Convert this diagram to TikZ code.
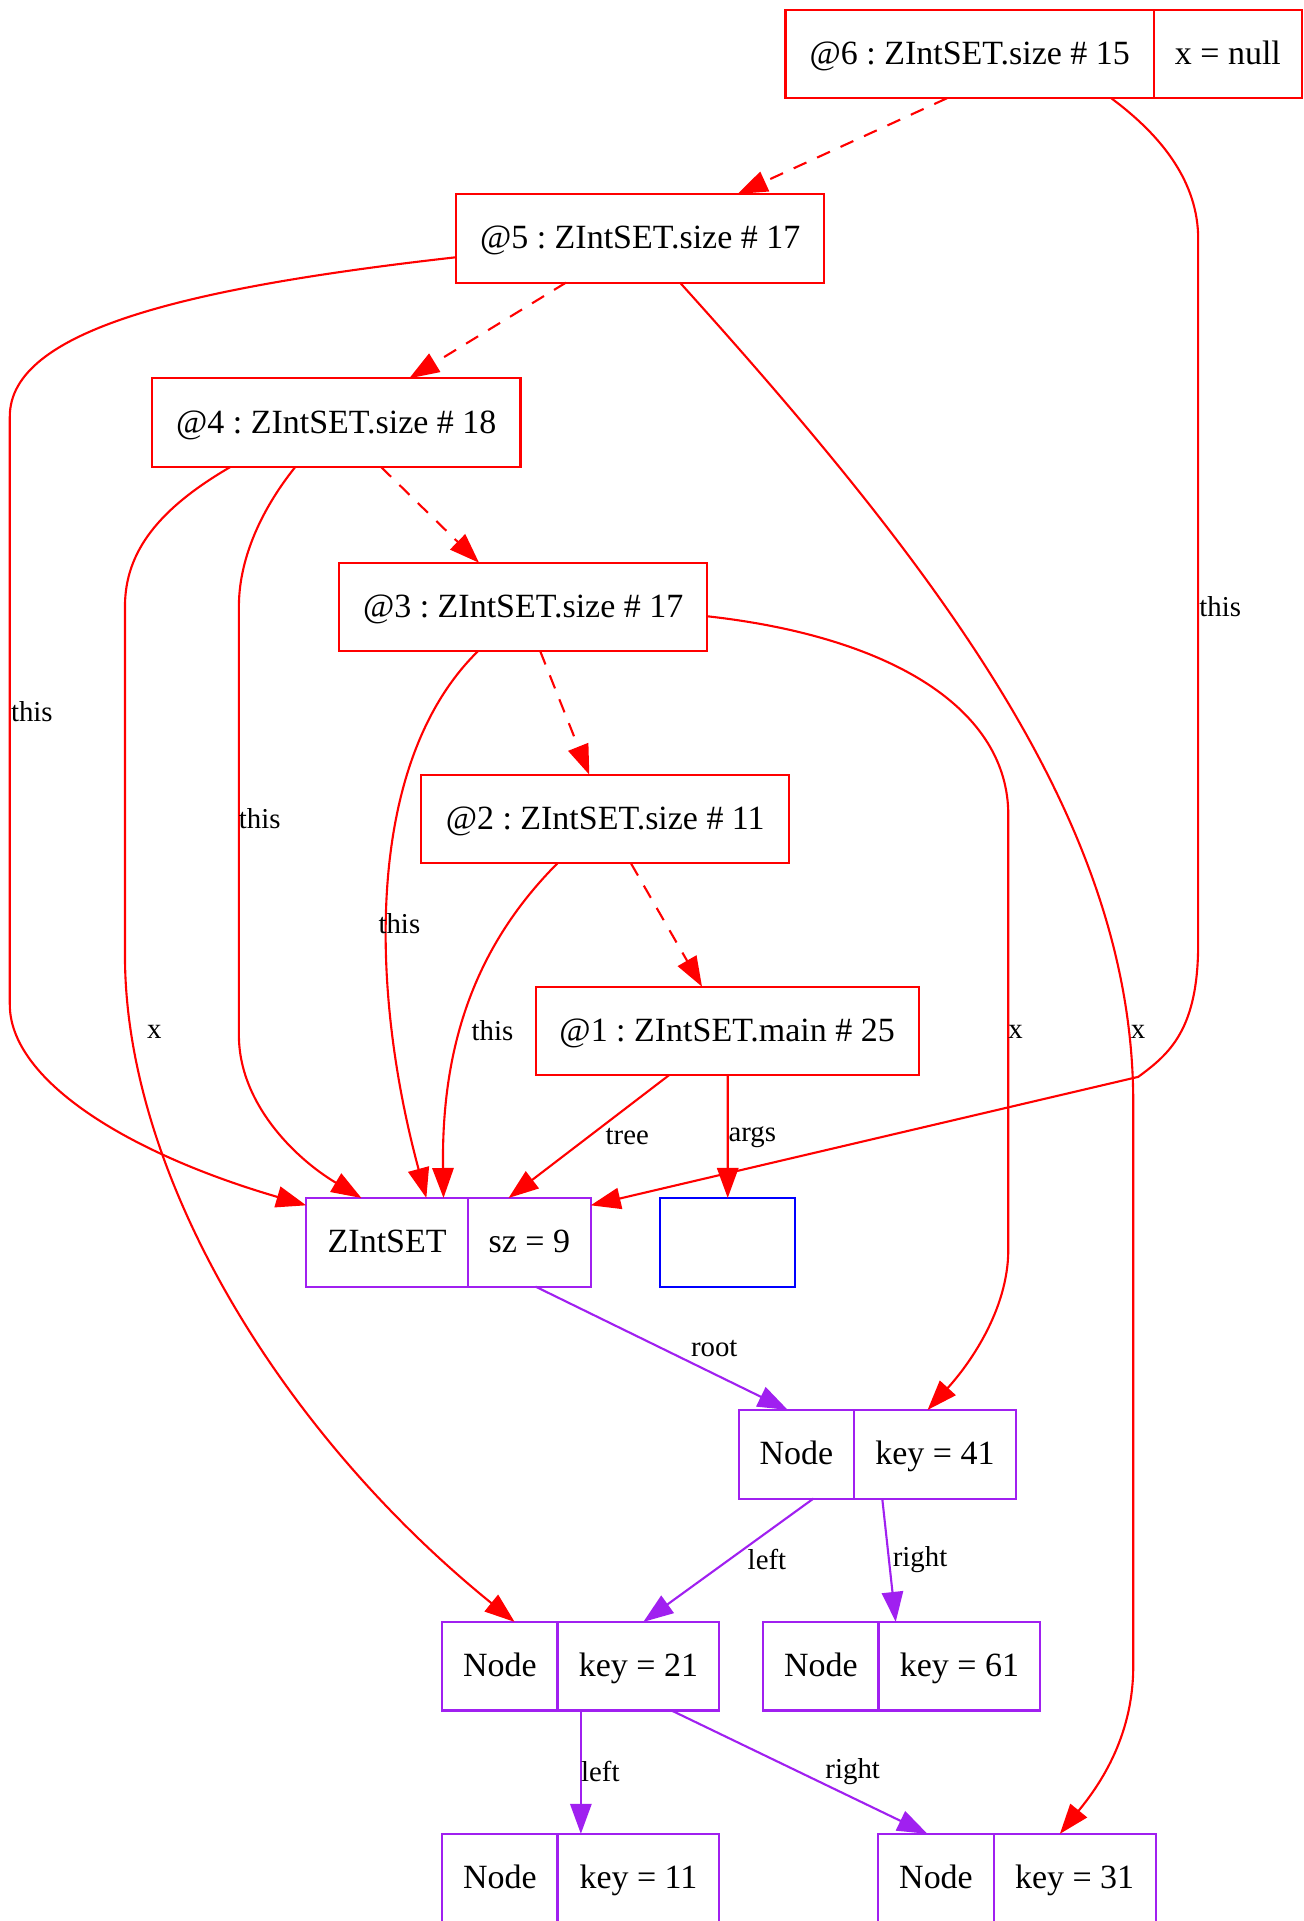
\documentclass[tikz,border=0pt]{standalone}
\usepackage{fontspec}
\setmainfont{Liberation Serif}
\usetikzlibrary{arrows.meta,positioning,calc}
\definecolor{callred}  {HTML}{FF0000}
\definecolor{objpurple}{HTML}{A020F0}
\definecolor{argblue}  {HTML}{0000FF}
\newcommand{\boxfont}{\fontsize{14.5}{17}\selectfont\frenchspacing}
\newcommand{\edgefont}{\fontsize{12.3}{14}\selectfont}
\tikzset{
  framebox/.style ={draw=callred, fill=white, line width=0.9pt, outer sep=0pt,
                    minimum height=1.33cm, inner sep=2pt, font=\boxfont,
                    text height=11pt, text depth=2pt},
  objbox/.style   ={draw=objpurple, fill=white, line width=0.9pt, outer sep=0pt,
                    minimum height=1.33cm, inner sep=2pt, font=\boxfont,
                    text height=11pt, text depth=2pt},
  argbox/.style   ={draw=argblue, fill=white, line width=0.9pt, outer sep=0pt,
                    minimum height=1.33cm, minimum width=2.02cm},
  calledge/.style ={-{Triangle[length=4.5mm,width=3.2mm]}, line width=0.9pt,
                    color=callred, dash pattern=on 6pt off 5pt},
  refedge/.style  ={-{Triangle[length=4.5mm,width=3.2mm]}, line width=0.9pt, color=callred},
  fieldedge/.style={-{Triangle[length=4.5mm,width=3.2mm]}, line width=0.9pt, color=objpurple},
  elabel/.style   ={font=\edgefont, text=black, inner sep=0pt},
}

\begin{document}
\begin{tikzpicture}[x=0.018384cm,y=-0.018384cm]
  \useasboundingbox (0,0) rectangle (1064,1568);
  % call stack
  \node[framebox,minimum width=5.53cm] (n6L) at (791.5,44) {@6 : ZIntSET.size \# 15};
  \node[framebox,minimum width=2.22cm,right=0pt of n6L] (n6R) {x = null};
  \node[framebox,minimum width=5.53cm] (n5) at (522.5,194.5) {@5 : ZIntSET.size \# 17};
  \node[framebox,minimum width=5.53cm] (n4) at (274.5,345) {@4 : ZIntSET.size \# 18};
  \node[framebox,minimum width=5.52cm] (n3) at (427,495.5) {@3 : ZIntSET.size \# 17};
  \node[framebox,minimum width=5.52cm] (n2) at (494,668.5) {@2 : ZIntSET.size \# 11};
  \node[framebox,minimum width=5.75cm] (n1) at (593.5,841.5) {@1 : ZIntSET.main \# 25};
  % heap
  \node[objbox,minimum width=2.43cm] (zsetL) at (316,1014) {ZIntSET};
  \node[objbox,minimum width=1.84cm,right=0pt of zsetL] (zsetR) {sz = 9};
  \node[argbox] (args) at (594,1014) {};
  \node[objbox,minimum width=1.73cm] (n41L) at (650,1187) {Node};
  \node[objbox,minimum width=2.43cm,right=0pt of n41L] (n41R) {key = 41};
  \node[objbox,minimum width=1.73cm] (n21L) at (408,1360) {Node};
  \node[objbox,minimum width=2.43cm,right=0pt of n21L] (n21R) {key = 21};
  \node[objbox,minimum width=1.73cm] (n61L) at (670,1360) {Node};
  \node[objbox,minimum width=2.43cm,right=0pt of n61L] (n61R) {key = 61};
  \node[objbox,minimum width=1.73cm] (n11L) at (408,1533) {Node};
  \node[objbox,minimum width=2.43cm,right=0pt of n11L] (n11R) {key = 11};
  \node[objbox,minimum width=1.73cm] (n31L) at (764,1533) {Node};
  \node[objbox,minimum width=2.43cm,right=0pt of n31L] (n31R) {key = 31};

  % calls
  \draw[calledge] ($(n6L.south)+(-18.5,0)$) -- ($(n5.north)+(79.5,0)$);
  \draw[calledge] ($(n5.south)+(-60.5,0)$) -- ($(n4.north)+(59.5,0)$);
  \draw[calledge] ($(n4.south)+(36.5,0)$) -- ($(n3.north)+(-36,0)$);
  \draw[calledge] ($(n3.south)+(14,0)$) -- ($(n2.north)+(-13,0)$);
  \draw[calledge] ($(n2.south)+(21,0)$) -- ($(n1.north)+(-20.5,0)$);

  % references from frames
  \draw[refedge] ($(n6L.south)+(115.5,0)$) .. controls (950,112) and (978,150) .. (978,195)
    -- (978,770) .. controls (978,840) and (955,860) .. (929,879)
    -- ($(zsetR.north east)+(0,6)$) node[elabel] at (996,495) {this};
  \draw[refedge] ($(n5.west)+(0,15.5)$) .. controls (150,235) and (8,270) .. (8,340)
    -- (8,820) .. controls (8,880) and (100,940) .. ($(zsetL.north west)+(0,6)$)
    node[elabel] at (26,581) {this};
  \draw[refedge] ($(n5.south)+(32.5,0)$) .. controls (780,480) and (925,680) .. (925,900)
    -- (925,1360) .. controls (925,1420) and (895,1460) .. ($(n31R.north)+(-12,0)$)
    node[elabel] at (929,842) {x};
  \draw[refedge] ($(n4.south)+(-86.5,0)$) .. controls (130,415) and (102,450) .. (102,495)
    -- (102,780) .. controls (102,960) and (230,1170) .. ($(n21L.north)+(12,0)$)
    node[elabel] at (126,842) {x};
  \draw[refedge] ($(n4.south)+(-33.5,0)$) .. controls (210,420) and (195,460) .. (195,495)
    -- (195,845) .. controls (195,900) and (240,945) .. ($(zsetL.north)+(-21,0)$)
    node[elabel] at (212,668) {this};
  \draw[refedge] ($(n3.south)+(-37,0)$) .. controls (300,620) and (300,800) .. ($(zsetL.north)+(32,0)$)
    node[elabel] at (326,754) {this};
  \draw[refedge] ($(n3.east)+(0,7.5)$) .. controls (730,520) and (823,580) .. (823,665)
    -- (823,1020) .. controls (823,1070) and (790,1115) .. ($(n41R.north)+(-6,0)$)
    node[elabel] at (829,842) {x};
  \draw[refedge] ($(n2.south)+(-39,0)$) .. controls (390,770) and (360,850) .. ($(zsetL.north)+(46,0)$)
    node[elabel] at (402,841) {this};
  \draw[refedge] ($(n1.south)+(-47.5,0)$) -- ($(zsetR.north)+(-17,0)$)
    node[elabel] at (512,928) {tree};
  \draw[refedge] ($(n1.south)+(0.5,0)$) -- (args.north) node[elabel] at (614,928) {args};

  % fields
  \draw[fieldedge] ($(zsetR.south)+(5,0)$) -- ($(n41L.north)+(-7,0)$) node[elabel] at (583,1101) {root};
  \draw[fieldedge] ($(n41L.south)+(14,0)$) -- ($(n21R.north)+(4,0)$) node[elabel] at (626,1273) {left};
  \draw[fieldedge] ($(n41R.south)+(-43,0)$) -- ($(n61R.north)+(-52,0)$) node[elabel] at (751,1273) {right};
  \draw[fieldedge] ($(n21R.south)+(-47,0)$) -- ($(n11R.north)+(-47,0)$) node[elabel] at (490,1446) {left};
  \draw[fieldedge] ($(n21R.south)+(27,0)$) -- ($(n31L.north)+(-7,0)$) node[elabel] at (696,1446) {right};
\end{tikzpicture}
\end{document}
